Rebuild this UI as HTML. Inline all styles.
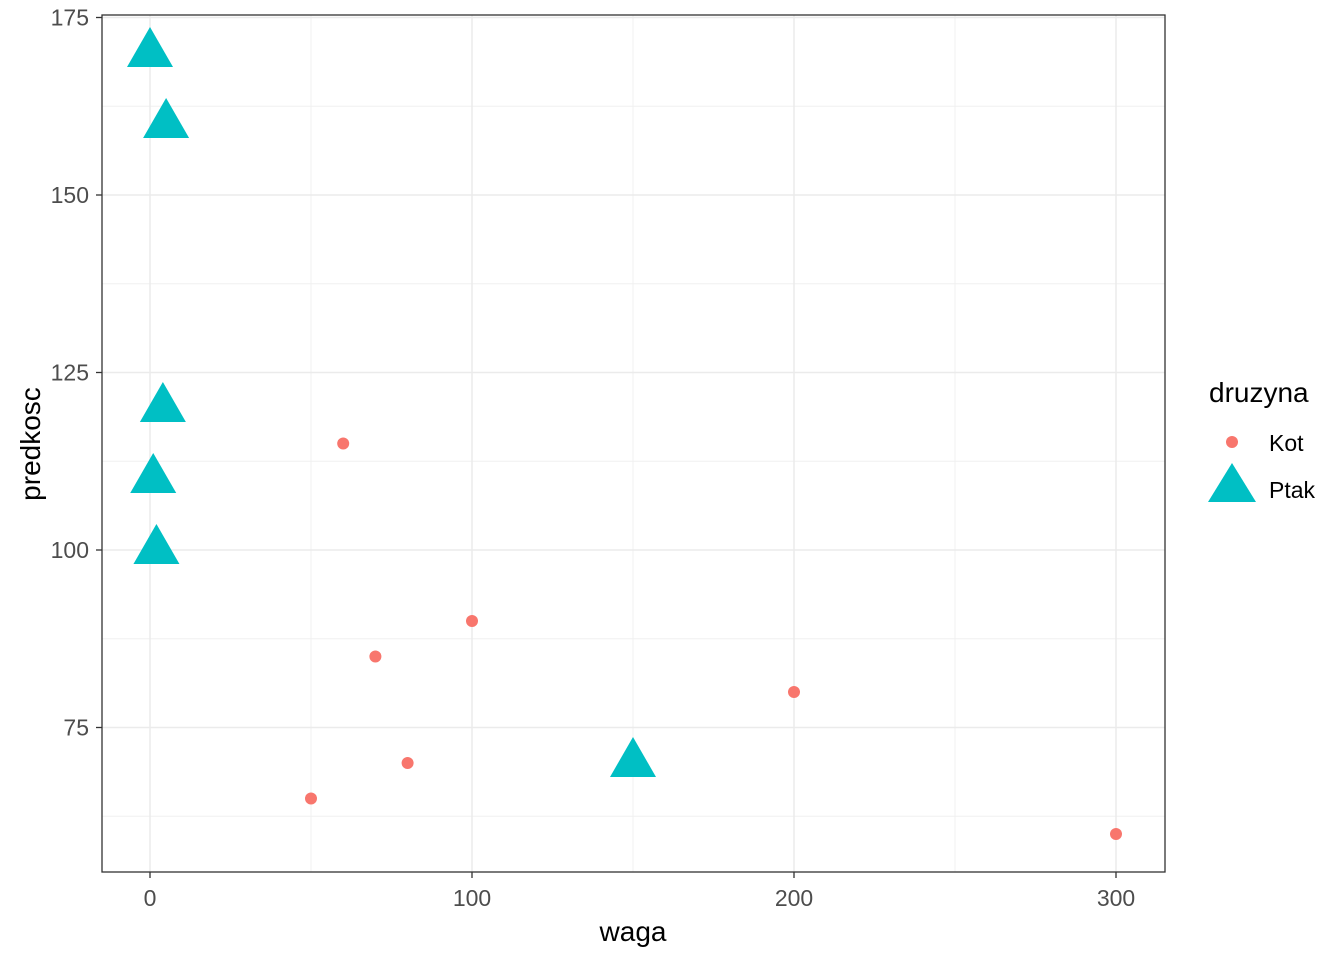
<!DOCTYPE html>
<html><head><meta charset="utf-8"><style>
body{margin:0;background:#fff;}
svg text{font-family:"Liberation Sans",sans-serif;}
</style></head><body>
<svg id="chart" width="1344" height="960" xmlns="http://www.w3.org/2000/svg">
<rect width="1344" height="960" fill="#fff"/>
<g id="grid"></g>
<g id="marks"></g>
<rect x="102" y="15" width="1063" height="857" fill="none" stroke="#333" stroke-width="1.3"/>
<g id="axes"></g>
<text x="633" y="941" font-size="28" text-anchor="middle" fill="#000">waga</text>
<text transform="translate(40,444) rotate(-90)" font-size="28" text-anchor="middle" fill="#000">predkosc</text>
<g>
<text x="1209" y="402" font-size="28" fill="#000">druzyna</text>
<circle cx="1232" cy="442" r="6" fill="#F8766D"/>
<text x="1269" y="451" font-size="23" fill="#000">Kot</text>
<polygon points="1232,463 1256,502 1208,502" fill="#00BFC4"/>
<text x="1269" y="498" font-size="23" fill="#000">Ptak</text>
</g>
</svg>
<script>
const kotWaga=[50,60,70,80,100,200,300];
const kotPredkosc=[65,115,85,70,90,80,60];
const ptakWaga=[0,5,4,1,2,150];
const ptakPredkosc=[170,160,120,110,100,70];
const xTicks=[0,100,200,300];
const yTicks=[75,100,125,150,175];
const xMinor=[50,150,250];
const yMinor=[62.5,87.5,112.5,137.5,162.5];
const NS="http://www.w3.org/2000/svg";
function sx(v){return 150+v*3.22;}
function sy(v){return 550-(v-100)*7.1;}
function mk(tag,attrs,parent){const e=document.createElementNS(NS,tag);for(const k in attrs)e.setAttribute(k,attrs[k]);parent.appendChild(e);return e;}
const grid=document.getElementById('grid'),marks=document.getElementById('marks'),axes=document.getElementById('axes');
xMinor.forEach(v=>{const l=mk('line',{x1:sx(v),x2:sx(v),y1:15,y2:872,stroke:'#f0f0f0','stroke-width':1},grid);

});
yMinor.forEach(v=>{const l=mk('line',{x1:102,x2:1165,y1:sy(v),y2:sy(v),stroke:'#f0f0f0','stroke-width':1},grid);

});
xTicks.forEach(v=>{const l=mk('line',{x1:sx(v),x2:sx(v),y1:15,y2:872,stroke:'#ebebeb','stroke-width':1.5},grid);


const t=mk('line',{x1:sx(v),x2:sx(v),y1:872,y2:878,stroke:'#333','stroke-width':1.3},axes);


const tx=mk('text',{x:sx(v),y:906,'font-size':23,'text-anchor':'middle',fill:'#4d4d4d'},axes);tx.textContent=v;

});
yTicks.forEach(v=>{const l=mk('line',{x1:102,x2:1165,y1:sy(v),y2:sy(v),stroke:'#ebebeb','stroke-width':1.5},grid);


const t=mk('line',{x1:96,x2:102,y1:sy(v),y2:sy(v),stroke:'#333','stroke-width':1.3},axes);


const tx=mk('text',{x:89,y:sy(v)+8,'font-size':23,'text-anchor':'end',fill:'#4d4d4d'},axes);tx.textContent=v;

});
kotWaga.forEach((w,i)=>{const c=mk('circle',{cx:sx(w),cy:sy(kotPredkosc[i]),r:6,fill:'#F8766D'},marks);

});
ptakWaga.forEach((w,i)=>{const x=sx(w),y=sy(ptakPredkosc[i]);
const p=mk('polygon',{points:`${x},${y-26} ${x+23},${y+14} ${x-23},${y+14}`,fill:'#00BFC4'},marks);

});
</script>
</body></html>
